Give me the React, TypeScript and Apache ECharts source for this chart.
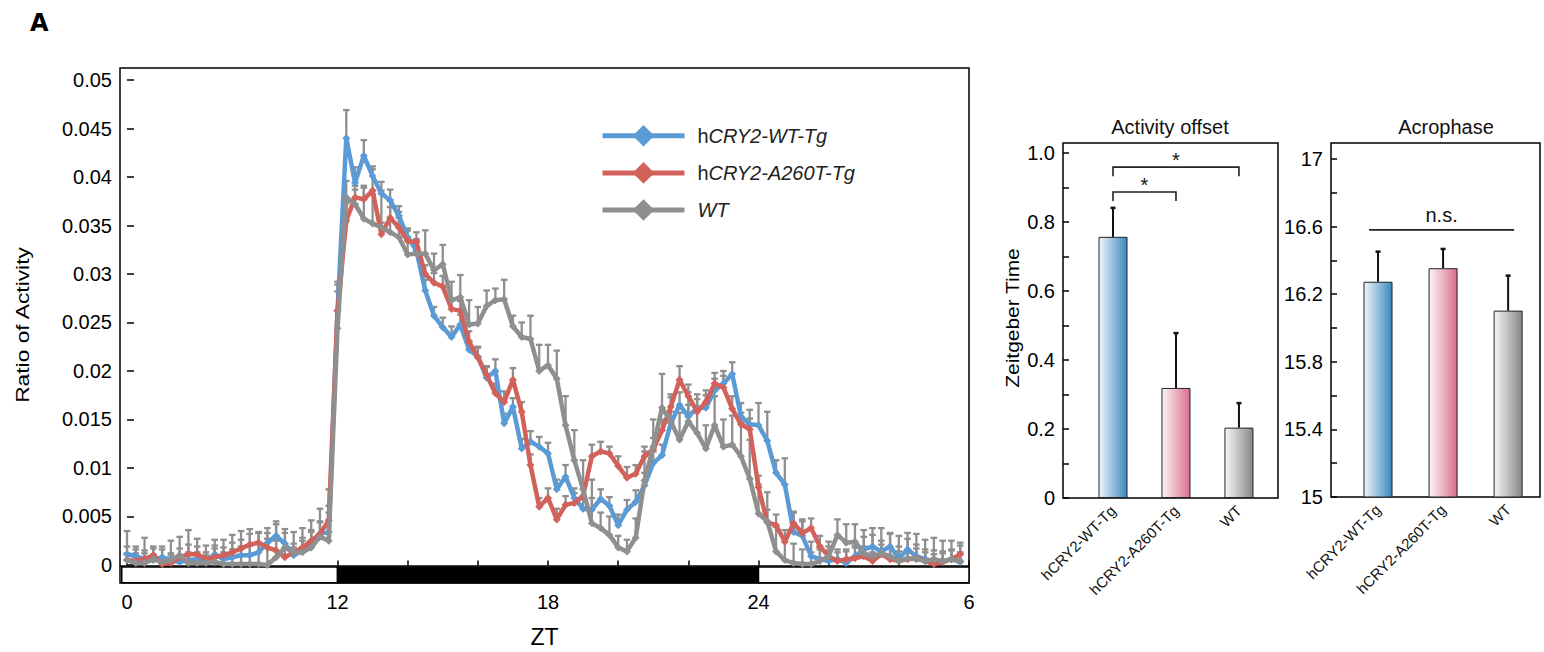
import React, { useEffect, useRef } from "react";
import * as echarts from "echarts";

const FONT = "'Liberation Sans', Arial, Helvetica, sans-serif";

// ---------- Panel A (left): activity profile, 15-min bins over 24 h ----------
const binHours = 0.25;
const seriesNames = ["hCRY2-WT-Tg", "hCRY2-A260T-Tg", "WT"];

const actWTTg = [
  0.0011, 0.0009, 0.0006, 0.0005, 0.0008, 0.0005, 0.0003, 0.0005, 0.0006, 0.0004,
  0.0011, 0.0006, 0.0008, 0.0010, 0.0010, 0.0013, 0.0023, 0.0030, 0.0022, 0.0010,
  0.0015, 0.0022, 0.0032, 0.0034, 0.0262, 0.0440, 0.0394, 0.0422, 0.0401, 0.0383,
  0.0376, 0.0360, 0.0338, 0.0324, 0.0283, 0.0257, 0.0245, 0.0235, 0.0248, 0.0222,
  0.0215, 0.0193, 0.0200, 0.0146, 0.0163, 0.0120, 0.0127, 0.0122, 0.0115, 0.0078,
  0.0091, 0.0069, 0.0058, 0.0057, 0.0068, 0.0061, 0.0041, 0.0057, 0.0065, 0.0082,
  0.0105, 0.0113, 0.0146, 0.0165, 0.0153, 0.0162, 0.0162, 0.0180, 0.0187, 0.0197,
  0.0153, 0.0145, 0.0144, 0.0128, 0.0095, 0.0083, 0.0034, 0.0030, 0.0009, 0.0006,
  0.0004, 0.0006, 0.0002, 0.0009, 0.0016, 0.0019, 0.0014, 0.0019, 0.0007, 0.0016,
  0.0009, 0.0006, 0.0004, 0.0004, 0.0006, 0.0003,
];
const actA260T = [
  0.0005, 0.0004, 0.0006, 0.0010, 0.0001, 0.0002, 0.0008, 0.0011, 0.0011, 0.0006,
  0.0008, 0.0010, 0.0013, 0.0017, 0.0021, 0.0023, 0.0018, 0.0015, 0.0008, 0.0013,
  0.0018, 0.0025, 0.0032, 0.0046, 0.0262, 0.0355, 0.0379, 0.0377, 0.0386, 0.0341,
  0.0358, 0.0348, 0.0334, 0.0333, 0.0300, 0.0291, 0.0287, 0.0264, 0.0262, 0.0230,
  0.0214, 0.0196, 0.0177, 0.0168, 0.0191, 0.0158, 0.0103, 0.0060, 0.0069, 0.0047,
  0.0062, 0.0064, 0.0071, 0.0112, 0.0117, 0.0115, 0.0102, 0.0090, 0.0094, 0.0112,
  0.0119, 0.0139, 0.0163, 0.0191, 0.0174, 0.0158, 0.0168, 0.0187, 0.0183, 0.0161,
  0.0145, 0.0140, 0.0080, 0.0044, 0.0041, 0.0024, 0.0043, 0.0033, 0.0038, 0.0019,
  0.0009, 0.0004, 0.0006, 0.0007, 0.0009, 0.0004, 0.0011, 0.0006, 0.0004, 0.0006,
  0.0007, 0.0004, 0.0001, 0.0003, 0.0006, 0.0011,
];
const actWT = [
  0.0005, 0.0002, 0.0002, 0.0006, 0.0003, 0.0005, 0.0010, 0.0002, 0.0002, 0.0002,
  0.0003, 0.0001, 0.0001, 0.0001, 0.0001, 0.0001, 0.0000, 0.0008, 0.0018, 0.0013,
  0.0013, 0.0018, 0.0029, 0.0025, 0.0244, 0.0379, 0.0372, 0.0357, 0.0352, 0.0348,
  0.0343, 0.0338, 0.0320, 0.0321, 0.0321, 0.0304, 0.0310, 0.0273, 0.0276, 0.0248,
  0.0249, 0.0267, 0.0273, 0.0274, 0.0246, 0.0235, 0.0233, 0.0200, 0.0206, 0.0192,
  0.0144, 0.0108, 0.0078, 0.0043, 0.0038, 0.0031, 0.0018, 0.0014, 0.0028, 0.0087,
  0.0122, 0.0162, 0.0148, 0.0129, 0.0148, 0.0136, 0.0120, 0.0144, 0.0122, 0.0124,
  0.0112, 0.0089, 0.0053, 0.0045, 0.0014, 0.0005, 0.0002, 0.0001, 0.0001, 0.0004,
  0.0009, 0.0031, 0.0023, 0.0024, 0.0012, 0.0009, 0.0012, 0.0009, 0.0004, 0.0007,
  0.0006, 0.0004, 0.0006, 0.0004, 0.0006, 0.0004,
];
// upper error bars (SEM)
const errWTTg = [
  0.0008, 0.0007, 0.0009, 0.0006, 0.0008, 0.0007, 0.0006, 0.0008, 0.0007, 0.0006,
  0.0009, 0.0007, 0.0008, 0.0009, 0.0010, 0.0009, 0.0010, 0.0012, 0.0011, 0.0008,
  0.0010, 0.0012, 0.0013, 0.0020, 0.0030, 0.0029, 0.0016, 0.0016, 0.0010, 0.0012,
  0.0011, 0.0010, 0.0009, 0.0010, 0.0011, 0.0009, 0.0010, 0.0011, 0.0010, 0.0009,
  0.0010, 0.0011, 0.0012, 0.0010, 0.0009, 0.0010, 0.0011, 0.0010, 0.0011, 0.0010,
  0.0012, 0.0010, 0.0011, 0.0012, 0.0010, 0.0009, 0.0011, 0.0010, 0.0012, 0.0013,
  0.0012, 0.0011, 0.0012, 0.0013, 0.0012, 0.0014, 0.0013, 0.0012, 0.0013, 0.0012,
  0.0014, 0.0015, 0.0023, 0.0030, 0.0013, 0.0027, 0.0021, 0.0017, 0.0015, 0.0012,
  0.0011, 0.0010, 0.0012, 0.0011, 0.0013, 0.0012, 0.0011, 0.0013, 0.0012, 0.0011,
  0.0012, 0.0010, 0.0011, 0.0010, 0.0009, 0.0010,
];
const errA260T = [
  0.0007, 0.0008, 0.0006, 0.0009, 0.0007, 0.0008, 0.0009, 0.0010, 0.0008, 0.0007,
  0.0009, 0.0008, 0.0010, 0.0009, 0.0011, 0.0010, 0.0009, 0.0010, 0.0008, 0.0009,
  0.0010, 0.0011, 0.0012, 0.0015, 0.0020, 0.0018, 0.0012, 0.0014, 0.0022, 0.0012,
  0.0011, 0.0010, 0.0011, 0.0010, 0.0009, 0.0010, 0.0011, 0.0009, 0.0010, 0.0011,
  0.0010, 0.0009, 0.0010, 0.0011, 0.0012, 0.0010, 0.0011, 0.0009, 0.0010, 0.0011,
  0.0009, 0.0010, 0.0011, 0.0012, 0.0010, 0.0007, 0.0010, 0.0011, 0.0009, 0.0010,
  0.0012, 0.0011, 0.0013, 0.0014, 0.0012, 0.0013, 0.0012, 0.0011, 0.0012, 0.0013,
  0.0012, 0.0011, 0.0012, 0.0013, 0.0011, 0.0012, 0.0011, 0.0012, 0.0010, 0.0011,
  0.0010, 0.0009, 0.0010, 0.0011, 0.0010, 0.0009, 0.0010, 0.0011, 0.0010, 0.0009,
  0.0010, 0.0009, 0.0010, 0.0009, 0.0010, 0.0009,
];
const errWT = [
  0.0030, 0.0017, 0.0026, 0.0011, 0.0016, 0.0020, 0.0019, 0.0034, 0.0025, 0.0018,
  0.0023, 0.0025, 0.0030, 0.0034, 0.0036, 0.0033, 0.0038, 0.0037, 0.0019, 0.0021,
  0.0025, 0.0028, 0.0029, 0.0053, 0.0045, 0.0017, 0.0015, 0.0032, 0.0030, 0.0038,
  0.0033, 0.0026, 0.0025, 0.0015, 0.0024, 0.0017, 0.0020, 0.0019, 0.0023, 0.0025,
  0.0017, 0.0016, 0.0012, 0.0020, 0.0011, 0.0015, 0.0024, 0.0027, 0.0021, 0.0029,
  0.0030, 0.0031, 0.0030, 0.0045, 0.0016, 0.0019, 0.0012, 0.0012, 0.0020, 0.0030,
  0.0028, 0.0035, 0.0025, 0.0028, 0.0030, 0.0025, 0.0024, 0.0030, 0.0028, 0.0030,
  0.0035, 0.0040, 0.0030, 0.0030, 0.0025, 0.0022, 0.0020, 0.0015, 0.0012, 0.0012,
  0.0015, 0.0016, 0.0019, 0.0018, 0.0024, 0.0029, 0.0026, 0.0024, 0.0026, 0.0026,
  0.0026, 0.0022, 0.0022, 0.0021, 0.0019, 0.0019,
];

const yTickValues = [0, 0.005, 0.01, 0.015, 0.02, 0.025, 0.03, 0.035, 0.04, 0.045, 0.05];
const yTickLabels = ["0", "0.005", "0.01", "0.015", "0.02", "0.025", "0.03", "0.035", "0.04", "0.045", "0.05"];
const xTickValues = [0, 2, 4, 6, 8, 10, 12, 14, 16, 18, 20, 22, 24];
const xLabelValues = [0, 6, 12, 18, 24];
const xLabelTexts = ["0", "12", "18", "24", "6"];
// light / dark periods (hours from start); dark = 1
const ldStart = [-0.15, 6, 18];
const ldEnd = [6, 18, 24];
const ldDark = [0, 1, 0];

// ---------- Panels B: bar charts ----------
const groups = ["hCRY2-WT-Tg", "hCRY2-A260T-Tg", "WT"];
const offsetMean = [0.757, 0.319, 0.204];
const offsetErr = [0.084, 0.159, 0.071];
const acroMean = [16.274, 16.354, 16.103];
const acroErr = [0.178, 0.114, 0.207];
const offsetTicks = [0, 0.1, 0.2, 0.3, 0.4, 0.5, 0.6, 0.7, 0.8, 0.9, 1.0];
const offsetLabelVals = [0, 0.2, 0.4, 0.6, 0.8, 1.0];
const offsetLabels = ["0", "0.2", "0.4", "0.6", "0.8", "1.0"];
const acroTicks = [15, 15.2, 15.4, 15.6, 15.8, 16, 16.2, 16.4, 16.6, 16.8, 17];
const acroLabelVals = [15, 15.4, 15.8, 16.2, 16.6, 17];
const acroLabels = ["15", "15.4", "15.8", "16.2", "16.6", "17"];
// significance: from / to (group position), bracket level, label
const offsetSigFrom = [1, 1];
const offsetSigTo = [3, 2];
const offsetSigLevel = [0.959, 0.887];
const offsetSigText = ["*", "*"];
const acroSigFrom = [0.862];
const acroSigTo = [3.092];
const acroSigLevel = [16.581];
const acroSigText = ["n.s."];

// styles
const lineColors = ["#5B9BD5", "#D2615A", "#8F8F8F"];
const errColor = "#8F8F8F";
const barGradients = [
  ["#f2f7fc", "#3a86be"],
  ["#fdf5f7", "#d96e8d"],
  ["#f7f7f7", "#878787"],
];

function pick(vals: number[], labels: string[], v: number) {
  let best = 0;
  for (let i = 1; i < vals.length; i++) if (Math.abs(vals[i] - v) < Math.abs(vals[best] - v)) best = i;
  return labels[best];
}

export default function App() {
  const ref = useRef<HTMLDivElement>(null);
  useEffect(() => {
    if (!ref.current) return;
    const chart = echarts.init(ref.current, undefined, { renderer: "svg" });

    const actSets = [actWTTg, actA260T, actWT];
    const errSets = [errWTTg, errA260T, errWT];
    const lineSeries = actSets.map((vals, s) => ({
      name: seriesNames[s],
      type: "line",
      xAxisIndex: 0,
      yAxisIndex: 0,
      data: vals.map((v, i) => [i * binHours, v]),
      symbol: "diamond",
      symbolSize: 8,
      lineStyle: { width: 4.5, color: lineColors[s] },
      itemStyle: { color: lineColors[s] },
      z: 3 + s,
    }));
    const errData: number[][] = [];
    actSets.forEach((vals, s) => vals.forEach((v, i) => errData.push([i * binHours, v, errSets[s][i]])));

    const errRender = (params: any, api: any) => {
      const x = api.value(0), y = api.value(1), e = api.value(2);
      const p0 = api.coord([x, y]);
      const p1 = api.coord([x, y + e]);
      const st = { stroke: errColor, lineWidth: 2.3 };
      return {
        type: "group",
        children: [
          { type: "line", shape: { x1: p0[0], y1: p0[1], x2: p1[0], y2: p1[1] }, style: st },
          { type: "line", shape: { x1: p1[0] - 3.3, y1: p1[1], x2: p1[0] + 3.3, y2: p1[1] }, style: st },
        ],
      };
    };

    const ldRender = (params: any, api: any) => {
      const p0 = api.coord([api.value(0), -0.0002]);
      const p1 = api.coord([api.value(1), -0.00184]);
      return {
        type: "rect",
        shape: { x: p0[0], y: p0[1], width: p1[0] - p0[0], height: p1[1] - p0[1] },
        style: { fill: api.value(2) ? "#000" : "#fff", stroke: "#000", lineWidth: 1.5 },
      };
    };

    const barErrRender = (params: any, api: any) => {
      const x = api.value(0), y = api.value(1), e = api.value(2);
      const p0 = api.coord([x, y]);
      const p1 = api.coord([x, y + e]);
      const st = { stroke: "#111", lineWidth: 2 };
      return {
        type: "group",
        children: [
          { type: "line", shape: { x1: p0[0], y1: p0[1], x2: p1[0], y2: p1[1] }, style: st },
          { type: "line", shape: { x1: p1[0] - 2.5, y1: p1[1], x2: p1[0] + 2.5, y2: p1[1] }, style: { stroke: "#111", lineWidth: 2.5 } },
        ],
      };
    };

    const makeSigRender = (drop: number, textGap: number, texts: string[]) => (params: any, api: any) => {
      const x1 = api.value(0), x2 = api.value(1), lvl = api.value(2);
      const a = api.coord([x1, lvl]);
      const b = api.coord([x2, lvl]);
      const pts = drop > 0
        ? [[a[0], a[1] + drop], [a[0], a[1]], [b[0], b[1]], [b[0], b[1] + drop]]
        : [[a[0], a[1]], [b[0], b[1]]];
      return {
        type: "group",
        children: [
          { type: "polyline", shape: { points: pts }, style: { stroke: "#222", lineWidth: 1.6, fill: "none" } },
          {
            type: "text",
            x: (a[0] + b[0]) / 2,
            y: a[1] + textGap,
            style: {
              text: texts[params.dataIndex],
              textAlign: "center",
              textVerticalAlign: "bottom",
              font: `20px ${FONT}`,
              fill: "#111",
            },
          },
        ],
      };
    };

    const barItems = (means: number[]) =>
      means.map((m, i) => ({
        value: [i + 1, m],
        itemStyle: {
          color: new echarts.graphic.LinearGradient(0, 0, 1, 0, [
            { offset: 0, color: barGradients[i][0] },
            { offset: 1, color: barGradients[i][1] },
          ]),
          borderColor: "#222",
          borderWidth: 1,
        },
      }));

    const legendFmt = (name: string) =>
      name === "WT" ? "{p|}{i|WT}" : "{p|}{n|h}{i|" + name.slice(1) + "}";

    const barXAxis = (grid: number, min: number, max: number) => ({
      gridIndex: grid,
      type: "value",
      min,
      max,
      axisLine: { show: false },
      axisTick: { show: false },
      splitLine: { show: false },
      axisLabel: {
        customValues: [1, 2, 3],
        formatter: (v: number) => groups[Math.round(v) - 1] || "",
        rotate: 45,
        fontSize: 15,
        color: "#111",
        margin: 10,
        fontFamily: FONT,
      },
    });

    const gridBase = { show: true, borderColor: "#000", borderWidth: 1.5, backgroundColor: "transparent", containLabel: false, outerBoundsMode: "none" };

    const option: any = {
      animation: false,
      backgroundColor: "#fff",
      textStyle: { fontFamily: FONT, color: "#000" },
      grid: [
        { ...gridBase, left: 120, top: 68, width: 849, height: 515 },
        { ...gridBase, left: 1063, top: 143, width: 215, height: 355 },
        { ...gridBase, left: 1331, top: 143, width: 209, height: 354 },
      ],
      xAxis: [
        {
          gridIndex: 0,
          type: "value",
          min: -0.2,
          max: 24,
          offset: -17.5,
          axisLine: { onZero: false, lineStyle: { color: "#000", width: 1.5 } },
          axisTick: { inside: true, length: 5, customValues: xTickValues, lineStyle: { color: "#000", width: 1.5 } },
          axisLabel: {
            customValues: xLabelValues,
            formatter: (v: number) => pick(xLabelValues, xLabelTexts, v),
            fontSize: 20,
            color: "#000",
            margin: 26,
          },
          splitLine: { show: false },
          name: "ZT",
          nameLocation: "middle",
          nameGap: 60,
          nameTextStyle: { fontSize: 23, color: "#000" },
        },
        barXAxis(1, 0.206, 3.62),
        barXAxis(2, 0.277, 3.49),
      ],
      yAxis: [
        {
          gridIndex: 0,
          type: "value",
          min: -0.00186,
          max: 0.05124,
          axisLine: { show: false },
          axisTick: { show: true, inside: true, length: 7, customValues: yTickValues, lineStyle: { color: "#000", width: 1.5 } },
          axisLabel: {
            customValues: yTickValues,
            formatter: (v: number) => pick(yTickValues, yTickLabels, v),
            fontSize: 20,
            color: "#000",
            margin: 8,
          },
          splitLine: { show: false },
        },
        {
          gridIndex: 1,
          type: "value",
          min: 0,
          max: 1.029,
          axisLine: { show: false },
          axisTick: { show: true, inside: true, length: 6, customValues: offsetTicks, lineStyle: { color: "#000", width: 1.5 } },
          axisLabel: {
            customValues: offsetLabelVals,
            formatter: (v: number) => pick(offsetLabelVals, offsetLabels, v),
            fontSize: 20,
            color: "#000",
            margin: 8,
          },
          splitLine: { show: false },
        },
        {
          gridIndex: 2,
          type: "value",
          min: 15,
          max: 17.095,
          axisLine: { show: false },
          axisTick: { show: true, inside: true, length: 6, customValues: acroTicks, lineStyle: { color: "#000", width: 1.5 } },
          axisLabel: {
            customValues: acroLabelVals,
            formatter: (v: number) => pick(acroLabelVals, acroLabels, v),
            fontSize: 20,
            color: "#000",
            margin: 8,
          },
          splitLine: { show: false },
        },
      ],
      legend: {
        data: seriesNames,
        orient: "vertical",
        left: 595,
        top: 120,
        itemWidth: 82,
        itemHeight: 27,
        itemGap: 15.5,
        lineStyle: { width: 5 },
        formatter: legendFmt,
        textStyle: {
          fontSize: 20,
          color: "#222",
          rich: {
            p: { width: 8, fontSize: 20 },
            n: { fontSize: 20, color: "#222", fontFamily: FONT },
            i: { fontSize: 20, color: "#222", fontStyle: "italic", fontFamily: FONT },
          },
        },
      },
      graphic: [
        { type: "text", left: 30, top: 11, style: { text: "A", font: `bold 24px 'DejaVu Sans', sans-serif`, fill: "#000" } },
        { type: "text", x: 1170, y: 117, style: { text: "Activity offset", font: `20px ${FONT}`, fill: "#111", textAlign: "center" } },
        { type: "text", x: 1446, y: 117, style: { text: "Acrophase", font: `20px ${FONT}`, fill: "#111", textAlign: "center" } },
        {
          type: "text", x: 22, y: 325, rotation: Math.PI / 2, scaleX: 1.2,
          style: { text: "Ratio of Activity", font: `19px ${FONT}`, fill: "#000", textAlign: "center", textVerticalAlign: "middle" },
        },
        {
          type: "text", x: 1012, y: 318, rotation: Math.PI / 2, scaleX: 1.1,
          style: { text: "Zeitgeber Time", font: `19px ${FONT}`, fill: "#000", textAlign: "center", textVerticalAlign: "middle" },
        },
      ],
      series: [
        {
          type: "custom",
          name: "lightdark",
          xAxisIndex: 0,
          yAxisIndex: 0,
          renderItem: ldRender,
          data: ldStart.map((s, i) => [s, ldEnd[i], ldDark[i]]),
          z: 1,
          silent: true,
        },
        {
          type: "custom",
          name: "errbars",
          xAxisIndex: 0,
          yAxisIndex: 0,
          renderItem: errRender,
          data: errData,
          z: 2,
          silent: true,
        },
        ...lineSeries,
        {
          type: "bar",
          name: "offset",
          xAxisIndex: 1,
          yAxisIndex: 1,
          barWidth: 29,
          data: barItems(offsetMean),
          z: 2,
        },
        {
          type: "custom",
          xAxisIndex: 1,
          yAxisIndex: 1,
          renderItem: barErrRender,
          data: offsetMean.map((m, i) => [i + 1, m, offsetErr[i]]),
          z: 3,
        },
        {
          type: "custom",
          xAxisIndex: 1,
          yAxisIndex: 1,
          renderItem: makeSigRender(9, 3, offsetSigText),
          data: offsetSigFrom.map((f, i) => [f, offsetSigTo[i], offsetSigLevel[i]]),
          z: 3,
        },
        {
          type: "bar",
          name: "acro",
          xAxisIndex: 2,
          yAxisIndex: 2,
          barWidth: 29,
          data: barItems(acroMean),
          z: 2,
        },
        {
          type: "custom",
          xAxisIndex: 2,
          yAxisIndex: 2,
          renderItem: barErrRender,
          data: acroMean.map((m, i) => [i + 1, m, acroErr[i]]),
          z: 3,
        },
        {
          type: "custom",
          xAxisIndex: 2,
          yAxisIndex: 2,
          renderItem: makeSigRender(0, -5, acroSigText),
          data: acroSigFrom.map((f, i) => [f, acroSigTo[i], acroSigLevel[i]]),
          z: 3,
        },
      ],
    };
    chart.setOption(option);
    return () => chart.dispose();
  }, []);
  return <div ref={ref} style={{ position: "absolute", left: 0, top: 0, width: 1544, height: 652 }} />;
}
